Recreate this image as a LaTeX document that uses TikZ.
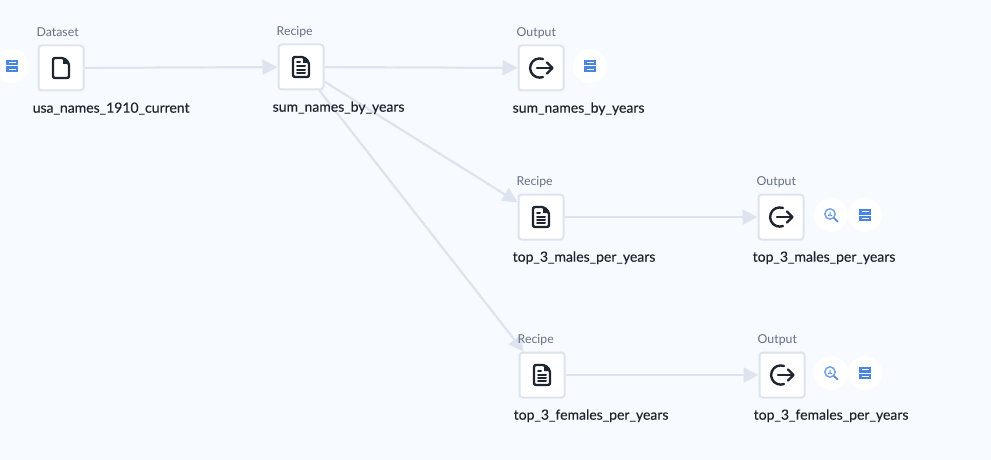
\documentclass[tikz,border=0pt]{standalone}
\usepackage{fontspec}
\setmainfont{Lato}
\newfontfamily\namefont[FakeBold=0.3]{Lato}
\usepackage{tikz}
\usetikzlibrary{arrows.meta}
\usetikzlibrary{positioning}
\definecolor{pagebg}{HTML}{F7FAFF}
\definecolor{edgecol}{HTML}{DDE4EF}
\definecolor{inkcol}{HTML}{1F2530}
\definecolor{kindcol}{HTML}{667085}
\definecolor{bluecol}{HTML}{4A86E0}

\begin{document}
\begin{tikzpicture}[
	x=1pt, y=-1pt,
	box/.style = {draw=edgecol,fill=white,line width=2pt,rounded corners=3pt,minimum size=45pt,inner sep=0pt},
	kind/.style = {text=kindcol,font=\fontsize{12.3}{13}\selectfont,inner sep=0pt,anchor=south west,text height=9pt,text depth=2pt},
	title/.style = {text=inkcol,font=\namefont\fontsize{14}{15}\selectfont,inner sep=0pt,anchor=north west,text height=10pt,text depth=3pt},
	badge/.style = {fill=white,circle,minimum size=34pt,inner sep=0pt},
	flow/.style = {draw=edgecol,line width=2.2pt,-{Triangle[length=15pt,width=15pt,fill=edgecol]}},
	icon/.style = {draw=inkcol,line width=2.4pt,line join=round,line cap=round},
	pics/fileicon/.style = {code={
		\draw[icon,rounded corners=2pt] (-8,-10) -- (3,-10) -- (8,-5) -- (8,10) -- (-8,10) -- cycle;
		\fill[inkcol] (2,-10) -- (8,-4) -- (2,-4) -- cycle;
	}},
	pics/recipeicon/.style = {code={
		\draw[icon,rounded corners=2pt] (-8,-10) -- (3,-10) -- (8,-5) -- (8,10) -- (-8,10) -- cycle;
		\fill[inkcol] (2,-10) -- (8,-4) -- (2,-4) -- cycle;
		\draw[icon,line width=2pt] (-4,-.5) -- (4,-.5) (-4,2.8) -- (4,2.8) (-4,6.2) -- (4,6.2);
		\draw[icon,line width=2pt] (-4,-4.5) -- (-1,-4.5);
	}},
	pics/outicon/.style = {code={
		\draw[icon] (2,-9) arc[start angle=-70,end angle=-290,radius=9.6];
		\draw[icon] (-4,0) -- (11,0);
		\draw[icon] (6,-5.5) -- (11.5,0) -- (6,5.5);
	}},
	pics/dbicon/.style = {code={
		\fill[bluecol] (-6,-6) rectangle (6,-.5);
		\fill[bluecol] (-6,.5) rectangle (6,6);
		\draw[white,line width=.6pt] (-3.5,-3.3) -- (3.5,-3.3) (-3.5,3.3) -- (3.5,3.3);
	}},
	pics/lensicon/.style = {code={
		\draw[bluecol!75,line width=1.5pt] (-1,-1) circle[radius=5.2];
		\draw[bluecol,line width=1.6pt,line cap=round] (3,3) -- (6.5,6.5);
		\fill[bluecol] (-2.8,-.5) rectangle (-1.8,1) (-1.3,-3) rectangle (-.3,1) (.2,0) rectangle (1.2,1);
	}}
  ]
	\useasboundingbox[fill=pagebg] (0,0) rectangle (991,460);

	\node[box] (dataset) at (61,68) {};
	\node[box] (recipe) at (301,67) {};
	\node[box] (output) at (541,68) {};
	\node[box] (recipemale) at (541,217) {};
	\node[box] (outputmale) at (781,217) {};
	\node[box] (recipefemale) at (542,375) {};
	\node[box] (outputfemale) at (782,375) {};

	\draw[flow] (dataset) -- (recipe);
	\draw[flow] (recipe) -- (output);
	\draw[flow] (recipe) -- (recipemale);
	\draw[flow] (recipe) -- (recipefemale);
	\draw[flow] (recipemale) -- (outputmale);
	\draw[flow] (recipefemale) -- (outputfemale);

	\node[kind,above right=6pt and -1pt of dataset.north west] (kinddataset) {Dataset};
	\node[kind,above right=6pt and -1pt of recipe.north west] (kindrecipe) {Recipe};
	\node[kind,above right=6pt and -1pt of output.north west] (kindoutput) {Output};
	\node[kind,above right=6pt and -1pt of recipemale.north west] (kindrecipemale) {Recipe};
	\node[kind,above right=6pt and -1pt of outputmale.north west] (kindoutputmale) {Output};
	\node[kind,above right=6pt and -1pt of recipefemale.north west] (kindrecipefemale) {Recipe};
	\node[kind,above right=6pt and -1pt of outputfemale.north west] (kindoutputfemale) {Output};

	\node[title,below right=11pt and -5pt of dataset.south west] (namedataset) {usa\_names\_1910\_current};
	\node[title,below right=11pt and -5pt of recipe.south west] (namerecipe) {sum\_names\_by\_years};
	\node[title,below right=11pt and -5pt of output.south west] (nameoutput) {sum\_names\_by\_years};
	\node[title,below right=11pt and -5pt of recipemale.south west] (namerecipemale) {top\_3\_males\_per\_years};
	\node[title,below right=11pt and -5pt of outputmale.south west] (nameoutputmale) {top\_3\_males\_per\_years};
	\node[title,below right=11pt and -5pt of recipefemale.south west] (namerecipefemale) {top\_3\_females\_per\_years};
	\node[title,below right=11pt and -5pt of outputfemale.south west] (nameoutputfemale) {top\_3\_females\_per\_years};

	\pic at (dataset) {fileicon};
	\pic at (recipe) {recipeicon};
	\pic at (output) {outicon};
	\pic at (recipemale) {recipeicon};
	\pic at (outputmale) {outicon};
	\pic at (recipefemale) {recipeicon};
	\pic at (outputfemale) {outicon};

	\node[badge] (dbdataset) at (12,66) {};
	\node[badge] (dboutput) at (590,66) {};
	\node[badge] (lensmale) at (831,215) {};
	\node[badge] (dbmale) at (865,215) {};
	\node[badge] (lensfemale) at (831,373) {};
	\node[badge] (dbfemale) at (865,373) {};

	\pic at (dbdataset) {dbicon};
	\pic at (dboutput) {dbicon};
	\pic at (lensmale) {lensicon};
	\pic at (dbmale) {dbicon};
	\pic at (lensfemale) {lensicon};
	\pic at (dbfemale) {dbicon};

\end{tikzpicture}
\end{document}
